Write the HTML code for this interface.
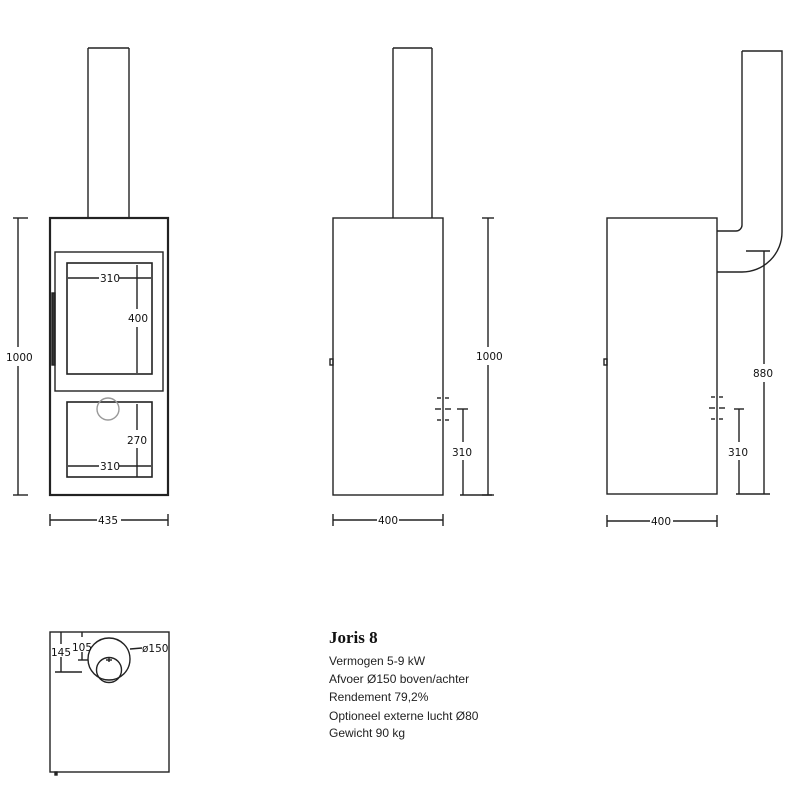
<!DOCTYPE html>
<html><head><meta charset="utf-8"><style>
html,body{margin:0;padding:0;background:#fff;}
svg{display:block;}
.d{font-family:"DejaVu Sans","Liberation Sans",sans-serif;font-size:10.5px;fill:#111;}
</style></head><body>
<svg width="800" height="800" viewBox="0 0 800 800" xmlns="http://www.w3.org/2000/svg">
<g fill="none" stroke="#222" stroke-width="1.4">
<!-- FRONT -->
<rect x="50" y="218" width="118" height="277" stroke-width="2.2"/>
<line x1="88" y1="48" x2="88" y2="218"/><line x1="129" y1="48" x2="129" y2="218"/><line x1="88" y1="48" x2="129" y2="48"/>
<rect x="55" y="252" width="108" height="139"/>
<rect x="67" y="263" width="85" height="111" stroke-width="1.6"/>
<rect x="52" y="293" width="3" height="72" fill="#333"/>
<rect x="67" y="402" width="85" height="75" stroke-width="1.6"/>
<circle cx="108" cy="409" r="11" stroke="#999"/>
<line x1="68" y1="278" x2="99" y2="278"/><line x1="119" y1="278" x2="151" y2="278"/>
<line x1="137" y1="265" x2="137" y2="309"/><line x1="137" y1="327" x2="137" y2="373"/>
<line x1="137" y1="404" x2="137" y2="430"/><line x1="137" y1="448" x2="137" y2="477"/>
<line x1="68" y1="466" x2="99" y2="466"/><line x1="119" y1="466" x2="151" y2="466"/>
<line x1="18" y1="218" x2="18" y2="347"/><line x1="18" y1="366" x2="18" y2="495"/>
<line x1="13" y1="218" x2="28" y2="218"/><line x1="13" y1="495" x2="28" y2="495"/>
<line x1="50" y1="520" x2="97" y2="520"/><line x1="121" y1="520" x2="168" y2="520"/>
<line x1="50" y1="514" x2="50" y2="526"/><line x1="168" y1="514" x2="168" y2="526"/>
<!-- SIDE -->
<rect x="333" y="218" width="110" height="277"/>
<line x1="393" y1="48" x2="393" y2="218"/><line x1="432" y1="48" x2="432" y2="218"/><line x1="393" y1="48" x2="432" y2="48"/>
<rect x="330" y="359" width="3" height="6"/>
<line x1="437" y1="398" x2="441" y2="398"/><line x1="445" y1="398" x2="449" y2="398"/>
<line x1="435" y1="409" x2="441" y2="409"/><line x1="445" y1="409" x2="451" y2="409"/>
<line x1="437" y1="420" x2="441" y2="420"/><line x1="445" y1="420" x2="449" y2="420"/>
<line x1="488" y1="218" x2="488" y2="347"/><line x1="488" y1="365" x2="488" y2="495"/>
<line x1="482" y1="218" x2="494" y2="218"/><line x1="482" y1="495" x2="494" y2="495"/>
<line x1="463" y1="409" x2="463" y2="442"/><line x1="463" y1="460" x2="463" y2="495"/>
<line x1="457" y1="409" x2="468" y2="409"/><line x1="460" y1="495" x2="492" y2="495"/>
<line x1="333" y1="520" x2="377" y2="520"/><line x1="399" y1="520" x2="443" y2="520"/>
<line x1="333" y1="514" x2="333" y2="526"/><line x1="443" y1="514" x2="443" y2="526"/>
<!-- BACK SIDE -->
<rect x="607" y="218" width="110" height="276"/>
<rect x="604" y="359" width="3" height="6"/>
<path d="M742 51 H782 V232 A40 40 0 0 1 742 272 H717"/>
<path d="M742 51 V225 A6 6 0 0 1 736 231 H717"/>
<line x1="711" y1="397" x2="715" y2="397"/><line x1="719" y1="397" x2="723" y2="397"/>
<line x1="709" y1="408" x2="715" y2="408"/><line x1="719" y1="408" x2="725" y2="408"/>
<line x1="711" y1="419" x2="715" y2="419"/><line x1="719" y1="419" x2="723" y2="419"/>
<line x1="764" y1="251" x2="764" y2="364"/><line x1="764" y1="382" x2="764" y2="494"/>
<line x1="746" y1="251" x2="770" y2="251"/>
<line x1="739" y1="409" x2="739" y2="442"/><line x1="739" y1="460" x2="739" y2="494"/>
<line x1="734" y1="409" x2="744" y2="409"/><line x1="736" y1="494" x2="770" y2="494"/>
<line x1="607" y1="521" x2="650" y2="521"/><line x1="673" y1="521" x2="717" y2="521"/>
<line x1="607" y1="515" x2="607" y2="527"/><line x1="717" y1="515" x2="717" y2="527"/>
<!-- TOP VIEW -->
<rect x="50" y="632" width="119" height="140"/>
<rect x="55" y="772" width="2" height="3" fill="#222"/>
<circle cx="109" cy="659" r="21"/>
<circle cx="109" cy="670" r="12.5"/>
<line x1="109" y1="657" x2="109" y2="662"/><line x1="106" y1="660" x2="112" y2="660"/>
<line x1="61" y1="632" x2="61" y2="644"/><line x1="61" y1="657" x2="61" y2="672"/><line x1="55" y1="672" x2="82" y2="672"/>
<line x1="82" y1="632" x2="82" y2="637"/><line x1="82" y1="652" x2="82" y2="660"/><line x1="78" y1="660" x2="88" y2="660"/>
<line x1="130" y1="649" x2="142" y2="648"/>
</g>
<g class="d">
<text x="100" y="282">310</text><text x="128" y="322">400</text>
<text x="127" y="444">270</text><text x="100" y="470">310</text>
<text x="6" y="361">1000</text><text x="98" y="524">435</text>
<text x="476" y="360">1000</text><text x="452" y="456">310</text><text x="378" y="524">400</text>
<text x="753" y="377">880</text><text x="728" y="456">310</text><text x="651" y="525">400</text>
<text x="51" y="656">145</text><text x="72" y="651">105</text><text x="142" y="652">ø150</text>
</g>
<g font-family="Liberation Sans, sans-serif" font-size="12" fill="#222">
<text x="329" y="643" font-family="Liberation Serif, serif" font-size="17" font-weight="bold" fill="#111">Joris 8</text>
<text x="329" y="665">Vermogen 5-9 kW</text>
<text x="329" y="683">Afvoer Ø150 boven/achter</text>
<text x="329" y="701">Rendement 79,2%</text>
<text x="329" y="720">Optioneel externe lucht Ø80</text>
<text x="329" y="737">Gewicht 90 kg</text>
</g>
</svg>
</body></html>
